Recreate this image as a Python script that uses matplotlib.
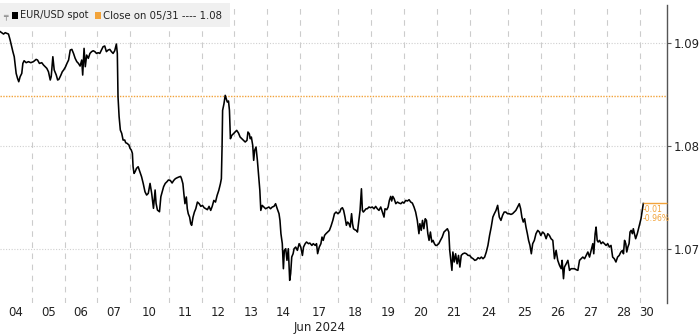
import numpy as np
import matplotlib
matplotlib.use('Agg')
import matplotlib.pyplot as plt
from matplotlib.patches import Rectangle

# ---------------- data ----------------
day_labels = ['04', '05', '06', '07', '10', '11', '12', '13', '14', '17',
              '18', '19', '20', '21', '24', '25', '26', '27', '28', '30']
# length of each day on the time axis (hours); Mondays include Sunday evening
day_len = [24, 24, 24, 24, 28, 24, 24, 24, 24, 28,
           24, 24, 24, 24, 28, 24, 24, 24, 24, 20]

h04 = [1.0, 3.4, 4.6, 7.0, 8.2, 10.2, 11.2, 12.6, 13.6, 14.5, 15.5, 16.7, 17.5, 18.4, 19.9, 21.6, 23.3]
v04 = [1.09107, 1.09084, 1.09097, 1.09084, 1.09026, 1.08913, 1.08864, 1.08702, 1.08654, 1.08621, 1.08670,
       1.08702, 1.08799, 1.08825, 1.08806, 1.08816, 1.08806]
h05 = [1.2, 3.2, 4.2, 5.6, 7.3, 8.6, 9.8, 11.0, 12.2, 13.5, 14.2, 15.4, 16.4, 17.9, 18.9, 19.8, 21.3, 22.3, 23.3]
v05 = [1.08816, 1.08838, 1.08832, 1.08799, 1.08806, 1.08783, 1.08767, 1.08751, 1.08718, 1.08638, 1.08670,
       1.08864, 1.08735, 1.08686, 1.08638, 1.08644, 1.08686, 1.08718, 1.08735]
h06 = [0.7, 1.7, 2.9, 4.1, 5.3, 6.5, 7.7, 8.9, 10.1, 11.3, 12.5, 13.2, 14.2, 15.1, 16.1, 17.3, 18.5, 19.7, 20.9, 22.1, 23.3]
v06 = [1.08767, 1.08799, 1.08832, 1.08929, 1.08935, 1.08896, 1.08848, 1.08816, 1.08799, 1.08773, 1.08832,
       1.08686, 1.08945, 1.08767, 1.08880, 1.08848, 1.08896, 1.08913, 1.08922, 1.08913, 1.08896]
h07 = [0.5, 1.7, 2.9, 4.1, 5.3, 6.5, 7.8, 9.0, 10.2, 11.4, 12.6, 13.8, 14.5, 15.0, 15.8, 16.7, 17.7, 18.7, 19.9,
       20.6, 21.6, 23.0, 23.8]
v07 = [1.08903, 1.08896, 1.08929, 1.08961, 1.08968, 1.08913, 1.08929, 1.08935, 1.08913, 1.08896, 1.08922,
       1.08987, 1.08896, 1.08476, 1.08282, 1.08152, 1.08120, 1.08055, 1.08055, 1.08029, 1.08023, 1.08007, 1.07974]
h10 = [0.7, 1.5, 2.0, 2.7, 3.5, 4.5, 5.7, 6.9, 8.2, 9.4, 10.7, 11.9, 13.1, 14.4, 15.6, 16.9, 18.1, 18.8, 19.8,
       21.3, 22.3, 23.3, 24.3, 25.5, 26.8, 27.8]
v10 = [1.07958, 1.07926, 1.07796, 1.07731, 1.07748, 1.07780, 1.07796, 1.07748, 1.07699, 1.07634, 1.07553,
       1.07521, 1.07537, 1.07634, 1.07537, 1.07392, 1.07570, 1.07440, 1.07375, 1.07359, 1.07505, 1.07553,
       1.07602, 1.07634, 1.07651, 1.07667]
h11 = [1.2, 2.5, 3.7, 4.9, 6.2, 7.4, 8.7, 9.4, 10.4, 11.1, 11.9, 12.9, 13.6, 14.3, 15.3, 16.1, 16.8, 17.8, 18.8,
       19.8, 21.0, 22.3, 23.5]
v11 = [1.07663, 1.07638, 1.07663, 1.07680, 1.07689, 1.07696, 1.07702, 1.07680, 1.07631, 1.07534, 1.07437,
       1.07502, 1.07388, 1.07340, 1.07307, 1.07243, 1.07227, 1.07307, 1.07356, 1.07388, 1.07453, 1.07437, 1.07411]
h12 = [0.7, 1.9, 3.1, 4.3, 5.5, 6.7, 7.8, 9.0, 10.2, 11.4, 12.6, 13.8, 14.5, 15.0, 15.4, 16.4, 17.3, 18.1, 18.8,
       19.7, 20.4, 21.1, 22.1, 23.3]
v12 = [1.07421, 1.07398, 1.07388, 1.07379, 1.07411, 1.07372, 1.07411, 1.07469, 1.07453, 1.07518, 1.07566,
       1.07631, 1.07680, 1.07987, 1.08343, 1.08408, 1.08489, 1.08456, 1.08424, 1.08434, 1.08343, 1.08068,
       1.08100, 1.08116]
h13 = [0.5, 1.7, 3.0, 4.2, 5.4, 6.7, 7.9, 9.2, 9.9, 10.9, 11.6, 12.4, 13.4, 14.1, 14.8, 15.8, 16.8, 17.8, 18.6,
       19.3, 20.3, 21.5, 22.8]
v13 = [1.08133, 1.08149, 1.08123, 1.08084, 1.08068, 1.08052, 1.08036, 1.08052, 1.08133, 1.08116, 1.08068,
       1.08084, 1.08003, 1.07858, 1.07955, 1.07987, 1.07858, 1.07696, 1.07566, 1.07372, 1.07421, 1.07405, 1.07388]
h14 = [1.2, 2.4, 3.7, 4.9, 6.1, 7.3, 8.6, 9.3, 10.0, 11.0, 11.8, 12.5, 13.5, 14.4, 15.4, 16.4, 17.1, 17.9, 18.9,
       19.6, 20.8, 22.0, 23.3]
v14 = [1.07405, 1.07388, 1.07405, 1.07411, 1.07437, 1.07388, 1.07340, 1.07275, 1.07146, 1.07049, 1.06806,
       1.06984, 1.07000, 1.06887, 1.07000, 1.06693, 1.06758, 1.06920, 1.06952, 1.07000, 1.07016, 1.06984, 1.07049]
h17 = [0.5, 1.7, 2.5, 3.7, 4.7, 6.1, 7.1, 8.6, 9.6, 11.1, 12.0, 12.8, 14.0, 15.2, 16.0, 16.9, 17.9, 18.9, 20.1,
       21.4, 22.6, 23.9, 25.1, 26.3, 27.6]
v17 = [1.07016, 1.06935, 1.07016, 1.07049, 1.07065, 1.07049, 1.07055, 1.07032, 1.07049, 1.07032, 1.07049,
       1.06952, 1.07016, 1.07049, 1.07113, 1.07081, 1.07130, 1.07146, 1.07162, 1.07178, 1.07220, 1.07275,
       1.07340, 1.07356, 1.07340]
h18 = [1.0, 1.9, 2.9, 3.8, 4.8, 5.8, 6.7, 7.7, 8.6, 9.6, 10.3, 11.0, 12.0, 13.0, 13.9, 14.9, 15.8, 16.8, 17.5,
       18.2, 19.2, 20.2, 21.1, 22.3, 23.5]
v18 = [1.07356, 1.07388, 1.07398, 1.07372, 1.07307, 1.07227, 1.07259, 1.07243, 1.07210, 1.07340, 1.07243,
       1.07194, 1.07184, 1.07178, 1.07162, 1.07275, 1.07372, 1.07582, 1.07372, 1.07356, 1.07372, 1.07388,
       1.07388, 1.07405, 1.07398]
h19 = [0.7, 2.0, 3.2, 4.4, 5.6, 6.9, 8.1, 9.3, 10.0, 11.3, 12.3, 13.2, 14.2, 14.9, 15.7, 16.7, 17.9, 19.1, 20.3,
       21.6, 22.8, 23.8]
v19 = [1.07405, 1.07388, 1.07411, 1.07388, 1.07372, 1.07405, 1.07356, 1.07307, 1.07388, 1.07379, 1.07405,
       1.07469, 1.07508, 1.07463, 1.07508, 1.07485, 1.07437, 1.07453, 1.07443, 1.07437, 1.07453, 1.07443]
h20 = [1.2, 2.4, 3.6, 4.8, 6.0, 7.2, 8.4, 9.6, 10.8, 11.5, 12.5, 13.4, 14.4, 15.4, 16.3, 17.3, 18.2, 19.2, 20.2,
       21.1, 22.1, 23.0, 23.8]
v20 = [1.07469, 1.07463, 1.07476, 1.07453, 1.07443, 1.07405, 1.07356, 1.07275, 1.07146, 1.07243, 1.07178,
       1.07275, 1.07194, 1.07291, 1.07275, 1.07146, 1.07081, 1.07162, 1.07065, 1.07081, 1.07049, 1.07032, 1.07032]
h21 = [1.3, 2.5, 3.8, 5.1, 6.3, 7.6, 8.6, 9.3, 10.1, 10.9, 11.6, 12.6, 13.6, 14.7, 15.7, 16.7, 17.7, 18.9, 20.2,
       21.5, 22.7, 23.8]
v21 = [1.07049, 1.07081, 1.07113, 1.07162, 1.07178, 1.07194, 1.07162, 1.06984, 1.06887, 1.06790, 1.06968,
       1.06871, 1.06951, 1.06854, 1.06935, 1.06822, 1.06935, 1.06951, 1.06958, 1.06951, 1.06935, 1.06935]
h24 = [1.2, 2.4, 3.6, 4.8, 6.0, 7.2, 8.4, 9.6, 10.8, 12.0, 13.2, 14.4, 15.6, 16.8, 17.9, 19.1, 20.3, 21.5, 22.7,
       23.9, 25.1, 26.3, 27.5]
v24 = [1.06913, 1.06903, 1.06887, 1.06893, 1.06913, 1.06903, 1.06919, 1.06903, 1.06919, 1.06968, 1.07032,
       1.07129, 1.07210, 1.07307, 1.07340, 1.07372, 1.07421, 1.07307, 1.07275, 1.07324, 1.07356, 1.07356, 1.07340]
h25 = [0.7, 2.0, 3.2, 4.4, 5.6, 6.9, 8.1, 9.1, 10.0, 11.0, 12.0, 13.0, 14.0, 14.9, 15.9, 16.9, 17.9, 19.1, 20.3,
       21.6, 22.8, 23.8]
v25 = [1.07340, 1.07333, 1.07340, 1.07356, 1.07372, 1.07405, 1.07437, 1.07388, 1.07307, 1.07259, 1.07291,
       1.07210, 1.07146, 1.07081, 1.07032, 1.06951, 1.07049, 1.07081, 1.07146, 1.07178, 1.07162, 1.07129]
h26 = [1.2, 2.4, 3.7, 4.9, 6.1, 7.3, 8.6, 9.8, 11.0, 12.2, 13.5, 14.7, 15.4, 16.4, 17.1, 18.4, 19.6, 20.8, 22.0, 23.3]
v26 = [1.07162, 1.07146, 1.07097, 1.07146, 1.07129, 1.07097, 1.07081, 1.06903, 1.06984, 1.06887, 1.06838,
       1.06806, 1.06887, 1.06709, 1.06822, 1.06854, 1.06887, 1.06790, 1.06806, 1.06806]
h27 = [0.5, 1.7, 2.9, 4.1, 5.3, 6.5, 7.8, 9.0, 10.2, 11.4, 12.6, 13.8, 14.5, 15.5, 16.2, 17.0, 17.7, 18.7, 19.9,
       21.1, 22.3, 23.5]
v27 = [1.06806, 1.06796, 1.06790, 1.06887, 1.06903, 1.06919, 1.06903, 1.06935, 1.06968, 1.06919, 1.06984,
       1.07049, 1.06951, 1.07146, 1.07210, 1.07081, 1.07065, 1.07081, 1.07049, 1.07065, 1.07049, 1.07032]
h28 = [0.7, 1.9, 3.1, 4.3, 5.5, 6.7, 7.9, 9.1, 10.3, 11.5, 12.2, 13.0, 13.9, 14.6, 15.4, 16.3, 17.0, 17.8, 18.7,
       19.4, 20.2, 21.1, 22.3, 23.5]
v28 = [1.07049, 1.07016, 1.07032, 1.06919, 1.06903, 1.06871, 1.06919, 1.06935, 1.06968, 1.06984, 1.06951,
       1.07081, 1.07049, 1.06968, 1.07016, 1.07049, 1.07162, 1.07178, 1.07146, 1.07194, 1.07146, 1.07097,
       1.07146, 1.07210]
h30 = [1.0, 1.9, 2.7]
v30 = [1.07291, 1.07372, 1.07439]

close_0531 = 1.0848
chg_abs = '-0.01'
chg_pct = '-0.96%'
y_ticks = [1.07, 1.08, 1.09]
month_label = 'Jun 2024'

day_hours = [h04, h05, h06, h07, h10, h11, h12, h13, h14, h17, h18, h19, h20, h21, h24, h25, h26, h27, h28, h30]
day_vals = [v04, v05, v06, v07, v10, v11, v12, v13, v14, v17, v18, v19, v20, v21, v24, v25, v26, v27, v28, v30]

# ---------------- build time axis ----------------
starts = np.concatenate([[0], np.cumsum(day_len)[:-1]])
t = np.concatenate([s + np.asarray(h) for s, h in zip(starts, day_hours)])
v = np.concatenate([np.asarray(x) for x in day_vals])

label_pos = [s + L / 2 for s, L in zip(starts, day_len)]
label_pos[-1] = starts[-1] + 5

W, H = 700, 336
fig = plt.figure(figsize=(W / 100, H / 100), dpi=100)
ax = fig.add_axes([0, (H - 303) / H, 667 / W, (303 - 5) / H])

orange = '#f2a33a'
grid_c = '#cccccc'

ax.set_xlim(0.8, starts[-1] + day_len[-1])
ax.set_ylim(1.06473, 1.09366)

# grid
for s in starts[1:]:
    ax.axvline(s, color=grid_c, lw=0.8, ls=(0, (5, 5)), zorder=1)
for yt in y_ticks:
    ax.axhline(yt, color='#d0d0d0', lw=0.8, ls=(0, (1, 1.5)), zorder=1)

ax.axhline(close_0531, color=orange, lw=1.0, ls=(0, (1, 1)), zorder=2)

ax.plot(t, v, color='black', lw=1.15, zorder=3)

# last value marker
ax.hlines(v[-1], t[-1], starts[-1] + day_len[-1], color=orange, lw=1.0, zorder=4, clip_on=False)
ax.annotate(chg_abs, xy=(t[-1], v[-1]), xytext=(-1, -6), textcoords='offset pixels',
            ha='left', va='center', fontsize=5.6, color=orange, family='DejaVu Sans')
ax.annotate(chg_pct, xy=(t[-1], v[-1]), xytext=(-1, -15), textcoords='offset pixels',
            ha='left', va='center', fontsize=5.6, color=orange, family='DejaVu Sans')

# spines
for sp in ['left', 'top', 'bottom']:
    ax.spines[sp].set_visible(False)
ax.spines['right'].set_color('#555555')
ax.spines['right'].set_linewidth(1.0)

ax.yaxis.tick_right()
ax.set_yticks(y_ticks)
ax.set_yticklabels([f'{y:.2f}' for y in y_ticks])
ax.tick_params(axis='y', length=3, width=0.8, color='#555555', pad=1.5,
               labelsize=8.5, labelcolor='#222222')
ax.set_xticks(label_pos)
ax.set_xticklabels(day_labels)
ax.tick_params(axis='x', length=0, pad=2.5, labelsize=8.5, labelcolor='#222222')

ax.annotate(month_label, xy=(234, 0), xycoords=('data', 'axes fraction'),
            xytext=(0, -24), textcoords='offset pixels', ha='center', va='center',
            fontsize=8.5, color='#222222')

# legend box
fig.add_artist(Rectangle((0, 1 - 27 / H), 230 / W, 24 / H, transform=fig.transFigure,
                         facecolor='#f0f0f0', edgecolor='none', zorder=5))
ly = 1 - 15.5 / H
fig.text(3 / W, ly, '╤', fontsize=5.5, color='#777777', va='center', ha='left', zorder=6,
         family='DejaVu Sans')
fig.add_artist(Rectangle((12 / W, 1 - 18.5 / H), 6 / W, 6 / H, transform=fig.transFigure,
                         facecolor='black', edgecolor='none', zorder=6))
fig.text(20 / W, ly, 'EUR/USD spot', fontsize=7, color='#222222', va='center', ha='left', zorder=6,
         family='DejaVu Sans')
fig.add_artist(Rectangle((95 / W, 1 - 18.5 / H), 6 / W, 6 / H, transform=fig.transFigure,
                         facecolor=orange, edgecolor='none', zorder=6))
fig.text(103 / W, ly, f'Close on 05/31 ---- {close_0531:.2f}', fontsize=7.3, color='#222222',
         va='center', ha='left', zorder=6, family='DejaVu Sans')

fig.savefig('out.png', dpi=100)
